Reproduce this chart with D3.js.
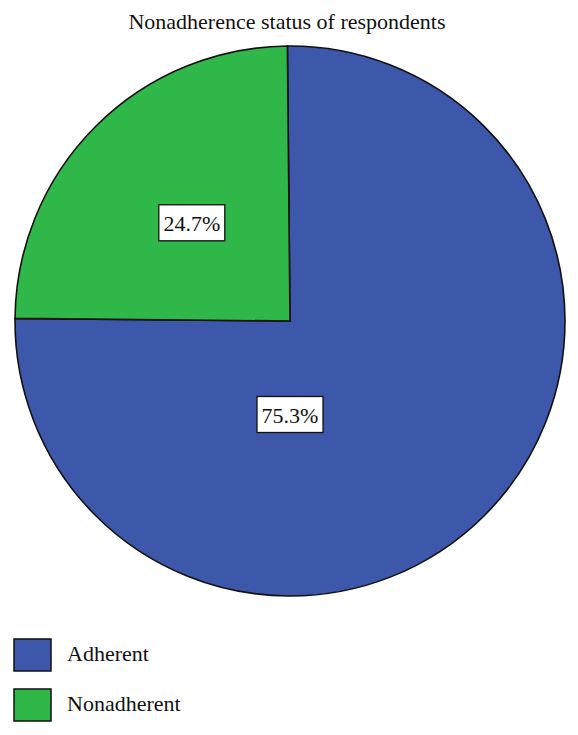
<!DOCTYPE html>
<meta charset="utf-8">
<script src="https://d3js.org/d3.v7.min.js"></script>
<style>
  body { margin: 0; background: #fff; }
  text { font-family: "Liberation Serif", "DejaVu Serif", serif; fill: #111; }
</style>
<div id="chart"></div>
<script>

var categories = ["Adherent", "Nonadherent"]
var percents = [75.3, 24.7]
var colors = ["#3d58ab", "#2fb74a"]
var title = "Nonadherence status of respondents"

var w = 578, h = 735
var cx = 290, cy = 321, r = 275

var svg = d3.select("#chart")
  .append("svg")
    .attr("width", w)
    .attr("height", h)

var data = categories.map((c, i) => ({label: c, value: percents[i], color: colors[i]}))

svg.append("text")
  .attr("x", 287)
  .attr("y", 29)
  .attr("text-anchor", "middle")
  .attr("font-size", "22px")
  .text(title)

// small rotation so the gap of the 24.7% slice is split evenly
var offset = (0.25 - percents[1] / 100) * Math.PI

var pie = d3.pie()
  .value(d => d.value)
  .sort(null)
  .startAngle(-offset)
  .endAngle(2 * Math.PI - offset)

var arc = d3.arc().innerRadius(0).outerRadius(r)

var g = svg.append("g")
  .attr("transform", `translate(${cx},${cy})`)

var slices = pie(data)

g.selectAll("path")
  .data(slices)
  .enter()
  .append("path")
    .attr("d", arc)
    .attr("fill", d => d.data.color)
    .attr("stroke", "#111")
    .attr("stroke-width", 1.6)
    .attr("stroke-linejoin", "miter")

// label positions
function labelPos(d) {
  var a, k
  if (d.data.label === "Adherent") { a = Math.PI; k = 0.34 }
  else { a = (d.startAngle + d.endAngle) / 2; k = 0.505 }
  return [Math.sin(a) * k * r, -Math.cos(a) * k * r]
}

var labels = g.selectAll("g.lab")
  .data(slices)
  .enter()
  .append("g")
    .attr("class", "lab")
    .attr("transform", d => `translate(${labelPos(d)})`)

labels.append("rect")
  .attr("x", -33)
  .attr("y", -18)
  .attr("width", 66)
  .attr("height", 36)
  .attr("fill", "#fff")
  .attr("stroke", "#111")
  .attr("stroke-width", 1.3)

labels.append("text")
  .attr("text-anchor", "middle")
  .attr("y", 8)
  .attr("font-size", "22px")
  .text(d => d.data.value.toFixed(1) + "%")

// legend
var legend = svg.append("g")
  .attr("transform", "translate(14,639)")

var item = legend.selectAll("g")
  .data(data)
  .enter()
  .append("g")
    .attr("transform", (d, i) => `translate(0,${i * 50})`)

item.append("rect")
  .attr("width", 37)
  .attr("height", 32)
  .attr("fill", d => d.color)
  .attr("stroke", "#111")
  .attr("stroke-width", 1.5)

item.append("text")
  .attr("x", 53)
  .attr("y", 22)
  .attr("font-size", "22px")
  .text(d => d.label)

</script>
